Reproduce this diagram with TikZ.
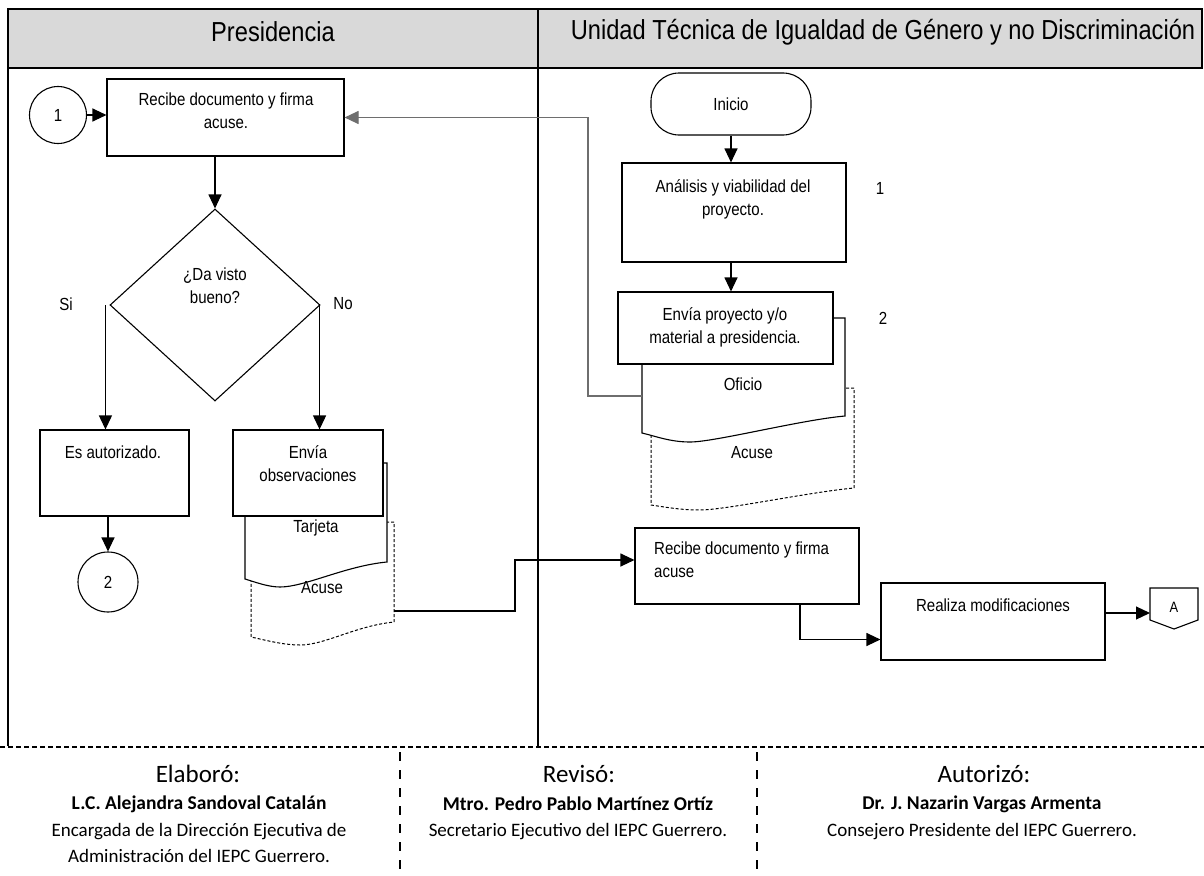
\documentclass[tikz,border=0pt]{standalone}
\usepackage{fontspec}
\usetikzlibrary{arrows.meta,shapes.geometric}
\newfontfamily\fcfont[FakeStretch=0.86]{Liberation Sans}
\newfontfamily\sigfont{Carlito}
\definecolor{hdr}{RGB}{217,217,217}
\definecolor{conn}{RGB}{110,110,110}
\begin{document}
\begin{tikzpicture}[x=1pt,y=-1pt,
  ln/.style={line width=1.1pt},
  box/.style={draw, line width=1.1pt, fill=white, inner sep=0pt, rectangle},
  rnd/.style={draw, line width=1.1pt, fill=white, inner sep=0pt, circle},
  txt/.style={font=\fcfont\fontsize{17.5}{23}\selectfont, align=center, inner sep=0pt},
  hd/.style={font=\fcfont\fontsize{27.5}{32}\selectfont, inner sep=0pt},
  arr/.style={line width=1.1pt, -{Triangle[width=13pt,length=14pt]}},
  garr/.style={line width=1.1pt, draw=conn, -{Triangle[width=13pt,length=14pt]}},
  doc/.style={draw, line width=1.1pt, fill=white},
  ddoc/.style={draw, line width=1pt, fill=white, dash pattern=on 3pt off 2pt},
  sigt/.style={font=\sigfont\fontsize{25}{29}\selectfont, inner sep=0pt},
  sign/.style={font=\sigfont\bfseries\fontsize{19.5}{24}\selectfont, inner sep=0pt},
  sigr/.style={font=\sigfont\fontsize{19}{24}\selectfont, inner sep=0pt}]
\useasboundingbox (0,0) rectangle (1204,875);
% header
\fill[hdr] (8,9) rectangle (1202,68);
\draw[ln] (8,9) rectangle (1202,68);
\draw[ln] (538,9) -- (538,746);
\draw[ln] (8,68) -- (8,746);
\node[hd] (h1) at (273,32) {Presidencia};
\node[hd] (h2) at (883,32) {Unidad Técnica de Igualdad de Género y no Discriminación};
% ---------------- left lane
\node[rnd, minimum size=57pt] (c1) at (58,115) {};
\node[txt] (c1t) at (c1) {1};
\node[box, minimum width=237pt, minimum height=77pt] (r1) at (225.5,117.5) {};
\node[txt, anchor=north] (r1t) at (226,93) {Recibe documento y firma\\acuse.};
\node[draw, line width=1.1pt, diamond, minimum width=210pt, minimum height=192pt, inner sep=0pt] (dia) at (215,305) {};
\node[txt, anchor=north] (diat) at (215,267.5) {¿Da visto\\bueno?};
\node[txt] (si) at (66,304) {Si};
\node[txt] (no) at (343,304) {No};
\node[box, minimum width=149pt, minimum height=86pt] (ea) at (114.5,473) {};
\node[txt, anchor=north] (eat) at (113,445.5) {Es autorizado.};
\node[rnd, minimum size=60pt] (c2) at (108,582) {};
\node[txt] (c2t) at (c2) {2};
% documents behind "Envía observaciones"
\draw[ddoc] (251,522) -- (394,522) -- (394,622) .. controls (355,626) and (325,645) .. (300,645) .. controls (283,645) and (265,640) .. (251,637) -- cycle;
\draw[doc] (245,463) -- (387,463) -- (387,562) .. controls (345,566) and (305,587) .. (280,587) .. controls (268,587) and (255,582) .. (245,579) -- cycle;
\node[box, minimum width=150pt, minimum height=86pt] (eo) at (308,473) {};
\node[txt, anchor=north] (eot) at (308,445.5) {Envía\\observaciones};
\node[txt] (tarj) at (316,528) {Tarjeta};
\node[txt] (acu1) at (322,588) {Acuse};
\coordinate (acA) at (394,611);
% connectors left
\draw[arr] (c1.east) -- (c1.east -| r1.west);
\draw[arr] (dia.north |- r1.south) -- (dia.north);
\draw[arr] ([xshift=-4pt]dia.west) -- ([xshift=-4pt]dia.west |- ea.north);
\draw[arr] ([xshift=-1pt]dia.east) -- ([xshift=-1pt]dia.east |- eo.north);
\draw[arr] (c2.north |- ea.south) -- (c2.north);
% ---------------- right lane
\node[draw, line width=1.1pt, fill=white, rectangle, rounded corners=28pt, minimum width=160pt, minimum height=62pt, inner sep=0pt] (ini) at (731,104) {};
\node[txt] (init) at (ini) {Inicio};
\node[box, minimum width=224pt, minimum height=99pt] (an) at (734,212.5) {};
\node[txt, anchor=north] (ant) at (733,179.5) {Análisis y viabilidad del\\proyecto.};
\node[txt] (n1) at (880,188) {1};
% documents behind "Envía proyecto"
\draw[ddoc] (651,388) -- (854,388) -- (854,488) .. controls (810,492) and (725,510) .. (700,510) .. controls (680,510) and (665,507) .. (651,505) -- cycle;
\draw[doc] (642,318) -- (845,318) -- (845,416) .. controls (800,420) and (715,442) .. (690,442) .. controls (670,442) and (655,436) .. (642,433) -- cycle;
\node[box, minimum width=215pt, minimum height=72pt] (ep) at (725.5,328) {};
\node[txt, anchor=north] (ept) at (725,307.5) {Envía proyecto y/o\\material a presidencia.};
\node[txt] (n2) at (883,318) {2};
\node[txt] (ofi) at (743,384) {Oficio};
\node[txt] (acu2) at (752,453) {Acuse};
\coordinate (ofL) at (642,396);
\node[box, minimum width=224pt, minimum height=76pt] (rd) at (747,566) {};
\node[txt, anchor=north west, align=left] (rdt) at (654,541.5) {Recibe documento y firma\\acuse};
\node[box, minimum width=224pt, minimum height=77pt] (rm) at (993,621.5) {};
\node[txt, anchor=north] (rmt) at (993,598.5) {Realiza modificaciones};
\draw[line width=1.1pt, fill=white] (1150,588) -- (1198,588) -- (1198,620) -- (1174,629) -- (1150,620) -- cycle;
\node[font=\fcfont\fontsize{15}{18}\selectfont, inner sep=0pt] (A) at (1174,607) {A};
\coordinate (Ain) at (1150,613);
% connectors right
\draw[arr] (ini.south) -- (ini.south |- an.north);
\draw[arr] (an.south -| ini.south) -- (ep.north -| ini.south);
\draw[garr] (ofL) -- ++(-54,0) |- (r1.east);
\draw[arr] (acA) -- ++(121,0) |- ([yshift=6pt]rd.west);
\draw[arr] ([xshift=53pt]rd.south) |- ([yshift=-18pt]rm.west);
\draw[arr] ([yshift=8.5pt]rm.east) -- (Ain);
% ---------------- signatures
\draw[line width=2.5pt, dash pattern=on 5pt off 3pt] (0,747) -- (1204,747);
\draw[line width=1.1pt, dash pattern=on 9pt off 9pt] (400,752) -- (400,875);
\draw[line width=1.1pt, dash pattern=on 9pt off 9pt] (757,752) -- (757,875);
\node[sigt] (e1) at (198,774) {Elaboró:};
\node[sigt] (e2) at (579,774) {Revisó:};
\node[sigt] (e3) at (984,774) {Autorizó:};
\node[sign] (p1) at (199,804) {L.C. Alejandra Sandoval Catalán};
\node[sign] (p2) at (578,804) {Mtro. Pedro Pablo Martínez Ortíz};
\node[sign] (p3) at (982,804) {Dr. J. Nazarin Vargas Armenta};
\node[sigr] (q1) at (199,832) {Encargada de la Dirección Ejecutiva de};
\node[sigr] (q1b) at (199,856) {Administración del IEPC Guerrero.};
\node[sigr] (q2) at (578,832) {Secretario Ejecutivo del IEPC Guerrero.};
\node[sigr] (q3) at (982,832) {Consejero Presidente del IEPC Guerrero.};
\end{tikzpicture}
\end{document}
